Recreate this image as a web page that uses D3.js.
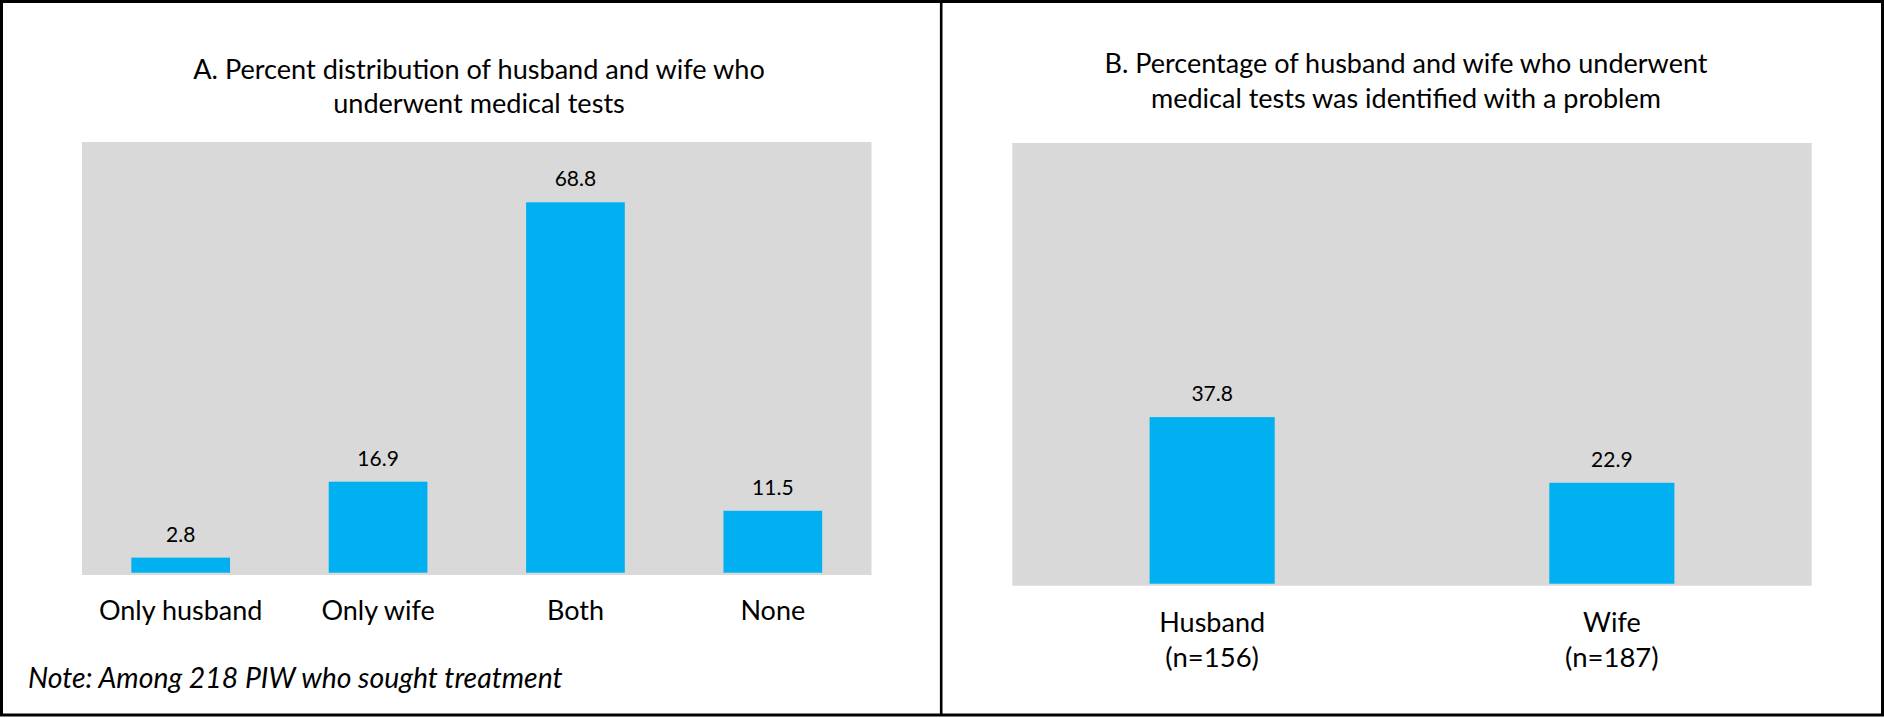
<!DOCTYPE html>
<html>
<head>
<meta charset="utf-8">
<script src="https://cdn.jsdelivr.net/npm/d3@7"></script>
<style>
  html, body { margin: 0; padding: 0; background: #fff; }
  svg { display: block; }
  text { font-family: Lato, "Open Sans", sans-serif; fill: #000; }
</style>
</head>
<body>
<div id="chart"></div>
<script>
// panel A
const categoriesA = ["Only husband", "Only wife", "Both", "None"];
const valuesA = [2.8, 16.9, 68.8, 11.5];
const titleA = ["A. Percent distribution of husband and wife who", "underwent medical tests"];
const noteA = "Note: Among 218 PIW who sought treatment";

// panel B
const categoriesB = ["Husband", "Wife"];
const countsB = ["(n=156)", "(n=187)"];
const valuesB = [37.8, 22.9];
const titleB = ["B. Percentage of husband and wife who underwent", "medical tests was identified with a problem"];

const W = 1884, H = 718;
const svg = d3.select("#chart").append("svg")
  .attr("width", W)
  .attr("height", H);

svg.append("rect").attr("width", W).attr("height", H).attr("fill", "#fff");

// outer frame and divider
svg.append("rect")
  .attr("x", 1.5).attr("y", 1.5)
  .attr("width", W - 3).attr("height", 713.5)
  .attr("fill", "none").attr("stroke", "#000").attr("stroke-width", 3);
svg.append("line")
  .attr("x1", 941.2).attr("x2", 941.2)
  .attr("y1", 0).attr("y2", 716)
  .attr("stroke", "#000").attr("stroke-width", 2.6);

function drawPanel(cfg) {
  const g = svg.append("g");

  // title
  g.append("text")
    .attr("x", cfg.titleX)
    .attr("y", cfg.titleY)
    .attr("text-anchor", "middle")
    .style("font-size", cfg.titleSize + "px")
    .selectAll("tspan")
    .data(cfg.title)
    .join("tspan")
      .attr("x", cfg.titleX)
      .attr("dy", (d, i) => i === 0 ? 0 : 34.6)
      .text(d => d);

  // plot area
  g.append("rect")
    .attr("x", cfg.left).attr("y", cfg.top)
    .attr("width", cfg.right - cfg.left)
    .attr("height", cfg.bottom - cfg.top)
    .attr("fill", "#d9d9d9");

  const x = d3.scaleBand()
    .domain(cfg.categories)
    .range([cfg.left, cfg.right])
    .paddingInner(cfg.pad)
    .paddingOuter(cfg.pad / 2);

  const y = d3.scaleLinear()
    .domain([0, cfg.max])
    .range([cfg.base, cfg.top]);

  const data = cfg.categories.map((c, i) => ({ cat: c, v: cfg.values[i] }));

  g.selectAll("rect.bar")
    .data(data)
    .join("rect")
      .attr("class", "bar")
      .attr("x", d => x(d.cat))
      .attr("width", x.bandwidth())
      .attr("y", d => y(d.v))
      .attr("height", d => y(0) - y(d.v))
      .attr("fill", "#00b0f0");

  g.selectAll("text.val")
    .data(data)
    .join("text")
      .attr("class", "val")
      .attr("x", d => x(d.cat) + x.bandwidth() / 2)
      .attr("y", d => y(d.v) - 16)
      .attr("text-anchor", "middle")
      .style("font-size", "21px")
      .text(d => d.v.toFixed(1));

  // category axis, no line and no ticks
  const axis = g.append("g")
    .attr("transform", `translate(0,${cfg.labelY})`)
    .call(d3.axisBottom(x).tickSize(0).tickPadding(0));
  axis.select(".domain").remove();
  axis.selectAll("text")
    .attr("dy", 0)
    .attr("fill", "#000")
    .style("font-family", "Lato, 'Open Sans', sans-serif")
    .style("font-size", cfg.labelSize + "px");

  if (cfg.sub) {
    axis.selectAll(".tick").append("text")
      .attr("y", 35)
      .attr("fill", "#000")
      .attr("text-anchor", "middle")
      .style("font-family", "Lato, 'Open Sans', sans-serif")
      .style("font-size", "27.5px")
      .text((d, i) => cfg.sub[i]);
  }
}

drawPanel({
  title: titleA, titleX: 479, titleY: 78.7, titleSize: 27.1,
  categories: categoriesA, values: valuesA,
  left: 82, right: 871.5, top: 142, bottom: 575, base: 572.7,
  max: 80, pad: 0.5, labelY: 620, labelSize: 27
});

drawPanel({
  title: titleB, titleX: 1406, titleY: 73.3, titleSize: 27,
  categories: categoriesB, values: valuesB, sub: countsB,
  left: 1012.3, right: 1811.7, top: 143, bottom: 585.7, base: 583.7,
  max: 100, pad: 0.687, labelY: 631.7, labelSize: 27
});

svg.append("text")
  .attr("x", 28)
  .attr("y", 688.3)
  .style("font-size", "28.4px")
  .style("font-style", "italic")
  .text(noteA);
</script>
</body>
</html>
